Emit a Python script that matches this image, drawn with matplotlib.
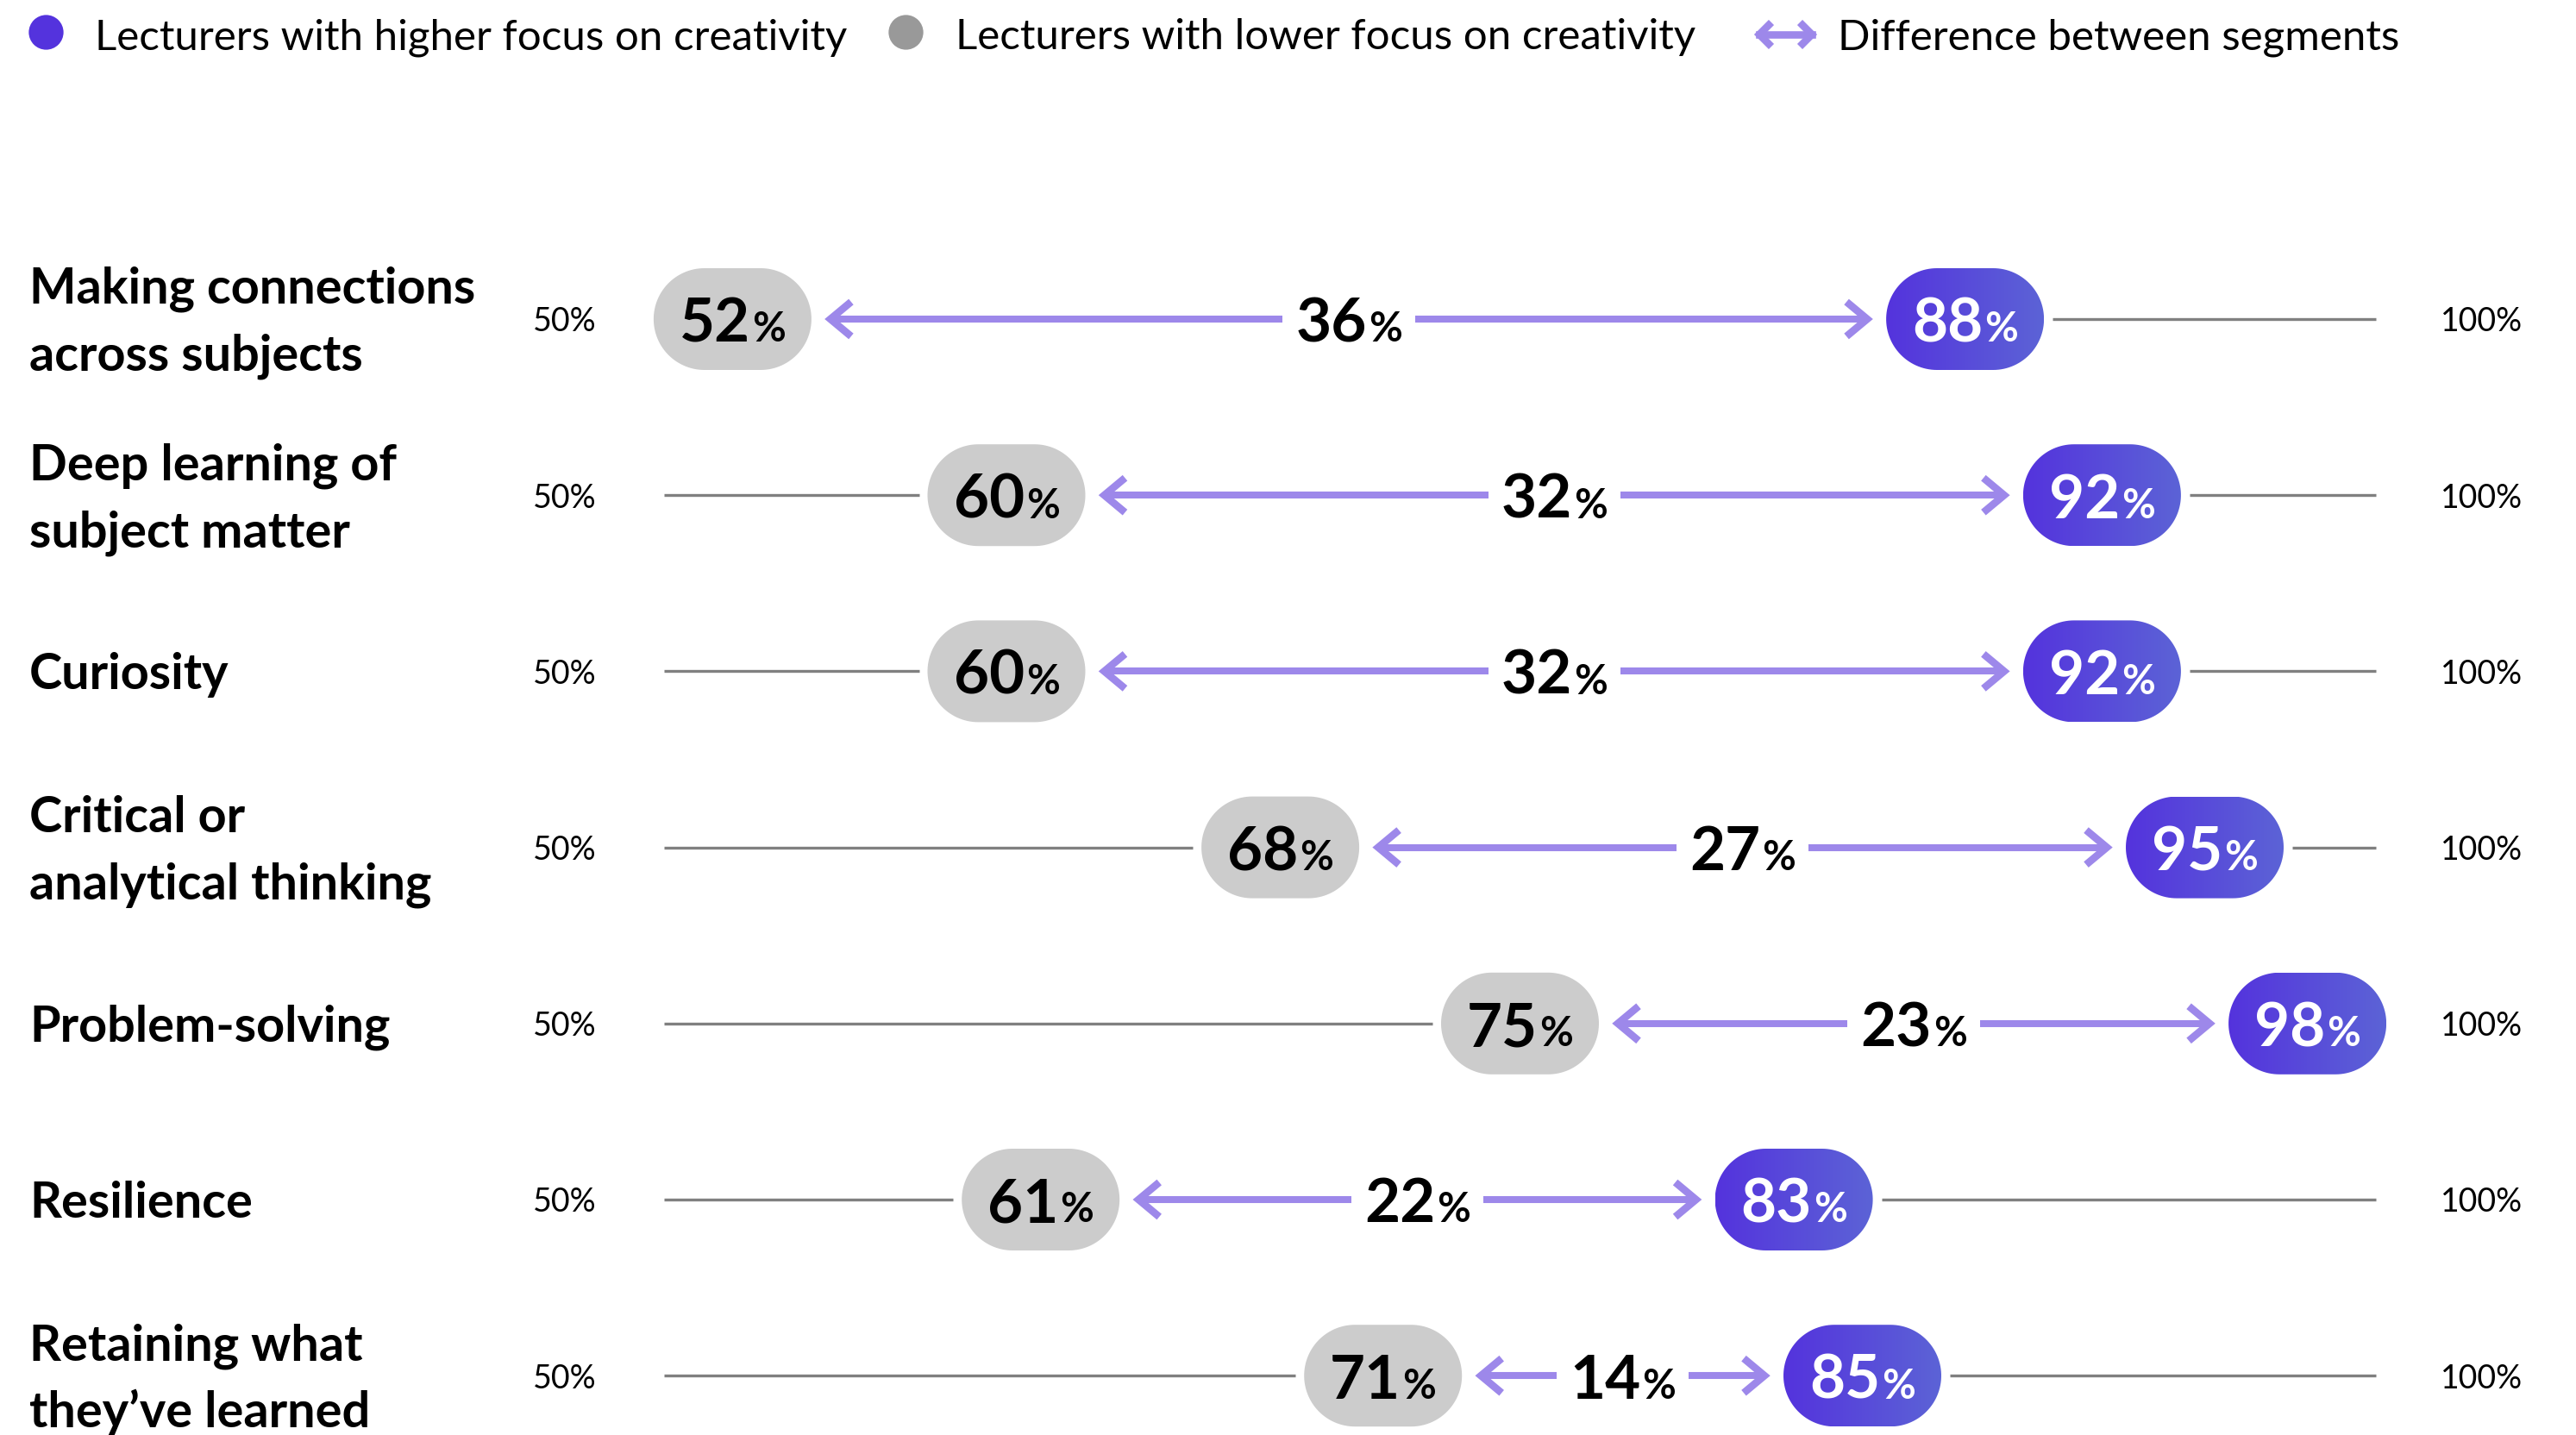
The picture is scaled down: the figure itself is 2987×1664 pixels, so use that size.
import matplotlib
matplotlib.use("Agg")
import matplotlib.pyplot as plt
import numpy as np
from matplotlib import transforms
from matplotlib.colors import LinearSegmentedColormap
from matplotlib.patches import Polygon

# survey data: share of lecturers who say each skill is developed
skills = [
    "Making connections\nacross subjects",
    "Deep learning of\nsubject matter",
    "Curiosity",
    "Critical or\nanalytical thinking",
    "Problem-solving",
    "Resilience",
    "Retaining what\nthey’ve learned",
]
lower_focus = [52, 60, 60, 68, 75, 61, 71]
higher_focus = [88, 92, 92, 95, 98, 83, 85]
difference = [36, 32, 32, 27, 23, 22, 14]
axis_min, axis_max = 50, 100
legend_labels = [
    "Lecturers with higher focus on creativity",
    "Lecturers with lower focus on creativity",
    "Difference between segments",
]

# canvas / layout (pixels)
W, H, DPI = 2987, 1665, 100
FONT = "Lato"
PX_X = 39.7      # pixels per percentage point
PX_Y = 204.2     # pixels per row
X50 = 770        # pixel position of the 50% end
ROW0 = 371       # pixel centre of the first row
PILL_W, PILL_H = 183, 118
LINE_GAP = 10
TIP_GAP = 22
LABEL_PAD = 15
CHEV_W, CHEV_H = 24, 20
SEP = 2

BIG, SMALL = 51, 34
CAP_BIG = 51
LABEL_SIZE, CAP_LABEL, LINE_H = 41.5, 40, 78
AXIS_SIZE, CAP_AXIS = 27, 27
LEGEND_SIZE = 35.5

PURPLE_L, PURPLE_R = "#5433DD", "#5C63D6"
GREY_PILL, GREY_DOT = "#CCCCCC", "#999999"
LINE = "#808080"
ARROW = "#9D88EA"

fig = plt.figure(figsize=(W / DPI, H / DPI), dpi=DPI)
ax = fig.add_axes([0, 0, 1, 1])
ax.set_axis_off()
xlim = (axis_min - X50 / PX_X, axis_min + (W - X50) / PX_X)
ylim = ((H - ROW0) / PX_Y, -ROW0 / PX_Y)
ax.set_xlim(*xlim)
ax.set_ylim(*ylim)
renderer = fig.canvas.get_renderer()
row_trans = transforms.blended_transform_factory(fig.transFigure, ax.transData)

grad_cmap = LinearSegmentedColormap.from_list("pill", [PURPLE_L, PURPLE_R])
gradient = np.linspace(0, 1, 256).reshape(1, -1)

# stadium outline in pixel units, centred on the origin
r = PILL_H / 2
c = PILL_W / 2 - r
t = np.linspace(-np.pi / 2, np.pi / 2, 60)
STADIUM = np.vstack([
    np.column_stack([c + r * np.cos(t), r * np.sin(t)]),
    np.column_stack([-c - r * np.cos(t), -r * np.sin(t)]),
])


def fx(px):
    return px / W


def fy(py):
    return 1 - py / H


def pct_label(x, y, value, color, zorder=6):
    base = y + (CAP_BIG / 2) / PX_Y
    kw = dict(fontweight="bold", color=color, family=FONT, ha="left",
              va="baseline", zorder=zorder)
    num = ax.text(x, base, str(value), fontsize=BIG, **kw)
    pct = ax.text(x, base, "%", fontsize=SMALL, **kw)
    w1 = num.get_window_extent(renderer).width
    w2 = pct.get_window_extent(renderer).width
    total = w1 + SEP + w2
    left = x - total / 2 / PX_X
    num.set_x(left)
    pct.set_x(left + (w1 + SEP) / PX_X)
    return left, left + total / PX_X


def pill(x, y, color=None):
    trans = transforms.Affine2D().scale(1 / PX_X, 1 / PX_Y).translate(x, y) + ax.transData
    patch = Polygon(STADIUM, closed=True, transform=trans,
                    facecolor=color if color else "none", edgecolor="none", zorder=4)
    ax.add_patch(patch)
    if color is None:
        hw, hh = PILL_W / 2 / PX_X, PILL_H / 2 / PX_Y
        ax.imshow(gradient, cmap=grad_cmap, extent=(x - hw, x + hw, y + hh, y - hh),
                  aspect="auto", interpolation="bilinear", clip_path=patch, zorder=4)


def chevron(tip, y, direction, lw=6.2):
    dx = direction * CHEV_W / PX_X
    dy = CHEV_H / PX_Y
    ax.plot([tip - dx, tip, tip - dx], [y - dy, y, y + dy], color=ARROW, lw=lw,
            solid_joinstyle="miter", solid_capstyle="butt", zorder=3)


hw = PILL_W / 2 / PX_X
for i, (skill, lo, hi, d) in enumerate(zip(skills, lower_focus, higher_focus, difference)):
    y = i

    # grey scale line outside the two segments
    left_end = lo - hw - LINE_GAP / PX_X
    if left_end > axis_min:
        ax.plot([axis_min, left_end], [y, y], color=LINE, lw=2.4, solid_capstyle="butt", zorder=1)
    right_start = hi + hw + LINE_GAP / PX_X
    if right_start < axis_max:
        ax.plot([right_start, axis_max], [y, y], color=LINE, lw=2.4, solid_capstyle="butt", zorder=1)

    pill(lo, y, GREY_PILL)
    pill(hi, y)
    pct_label(lo, y, lo, "black")
    pct_label(hi, y, hi, "white")

    # difference arrow with the gap value in the middle
    a0 = lo + hw + TIP_GAP / PX_X
    a1 = hi - hw - TIP_GAP / PX_X
    l, rr = pct_label((lo + hi) / 2, y, d, "black")
    ax.plot([a0, l - LABEL_PAD / PX_X], [y, y], color=ARROW, lw=5.8, solid_capstyle="butt", zorder=3)
    ax.plot([rr + LABEL_PAD / PX_X, a1], [y, y], color=ARROW, lw=5.8, solid_capstyle="butt", zorder=3)
    chevron(a0, y, -1)
    chevron(a1, y, 1)

    # scale ends
    ax.text(axis_min - 115 / PX_X, y + CAP_AXIS / 2 / PX_Y, f"{axis_min}%", fontsize=AXIS_SIZE,
            family=FONT, ha="center", va="baseline")
    ax.text(axis_max + 123 / PX_X, y + CAP_AXIS / 2 / PX_Y, f"{axis_max}%", fontsize=AXIS_SIZE,
            family=FONT, ha="center", va="baseline")

    # skill name on the left
    lines = skill.split("\n")
    n = len(lines)
    for k, line in enumerate(lines):
        base = y + ((k - (n - 1) / 2) * LINE_H + CAP_LABEL / 2) / PX_Y
        ax.text(fx(34), base, line, transform=row_trans, fontsize=LABEL_SIZE,
                fontweight="bold", family=FONT, ha="left", va="baseline")

# legend along the top
ax.plot([fx(53)], [fy(38)], "o", ms=29, color=PURPLE_L, mec="none",
        transform=fig.transFigure, clip_on=False)
fig.text(fx(110), fy(57), legend_labels[0], fontsize=LEGEND_SIZE, family=FONT, va="baseline")
ax.plot([fx(1050)], [fy(38)], "o", ms=29, color=GREY_DOT, mec="none",
        transform=fig.transFigure, clip_on=False)
fig.text(fx(1108), fy(57), legend_labels[1], fontsize=LEGEND_SIZE, family=FONT, va="baseline")

lx0, lx1, ly = 2040, 2101, 41
ax.plot([fx(lx0), fx(lx1)], [fy(ly), fy(ly)], color=ARROW, lw=6.2,
        transform=fig.transFigure, clip_on=False)
for tip, sgn in ((lx0, 1), (lx1, -1)):
    ax.plot([fx(tip + sgn * 14), fx(tip), fx(tip + sgn * 14)], [fy(ly - 14), fy(ly), fy(ly + 14)],
            color=ARROW, lw=6.2, solid_joinstyle="miter", solid_capstyle="butt",
            transform=fig.transFigure, clip_on=False)
fig.text(fx(2131), fy(57), legend_labels[2], fontsize=LEGEND_SIZE, family=FONT, va="baseline")

ax.set_xlim(*xlim)
ax.set_ylim(*ylim)
fig.savefig("out.png", dpi=DPI)
